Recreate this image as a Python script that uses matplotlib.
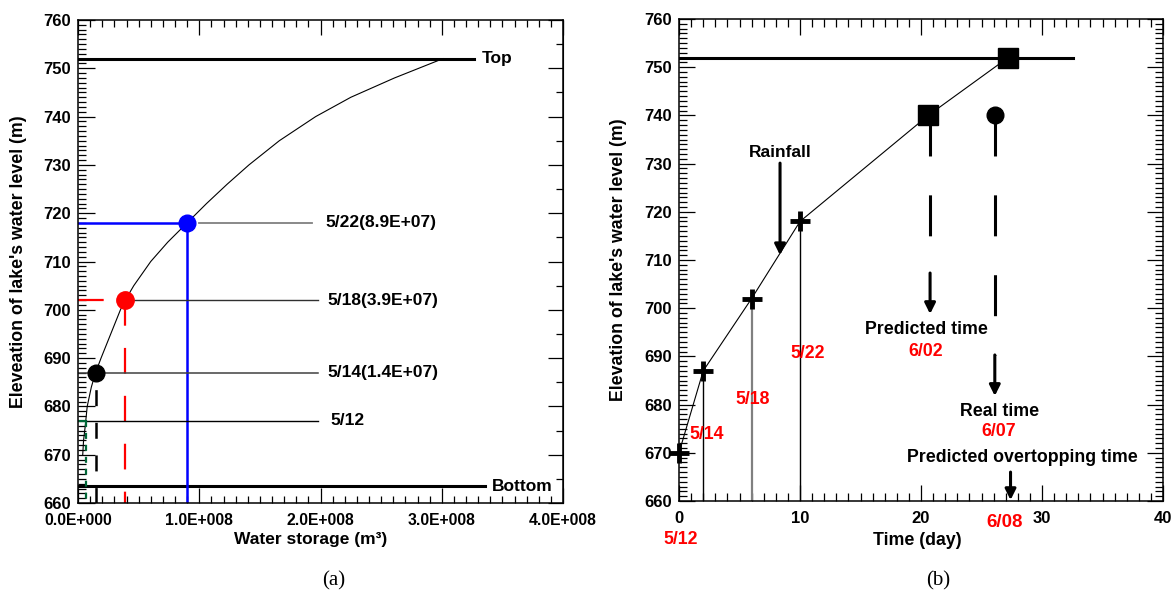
import matplotlib.pyplot as plt
from matplotlib.ticker import MultipleLocator, FuncFormatter

plt.rcParams['font.family'] = 'Liberation Sans'
plt.rcParams['font.weight'] = 'bold'
plt.rcParams['axes.labelweight'] = 'bold'
plt.rcParams['lines.scale_dashes'] = False

# (a) storage curve: water storage (m3) vs elevation (m)
storage = [3.9e6, 4.6e6, 6.0e6, 7.6e6, 1.1e7, 1.45e7, 1.9e7, 2.7e7, 3.5e7, 3.9e7,
           4.6e7, 6.0e7, 7.4e7, 9.0e7, 1.06e8, 1.23e8, 1.41e8, 1.66e8, 1.96e8,
           2.25e8, 2.61e8, 3.01e8]
elev = [670, 673, 676, 680, 684, 687, 690, 695, 700, 702,
        705, 710, 714, 718, 722, 726, 730, 735, 740,
        744, 748, 752]

top_elev = 752
bottom_elev = 663.5
date_labels = ['5/22(8.9E+07)', '5/18(3.9E+07)', '5/14(1.4E+07)', '5/12']
date_storage = [9.0e7, 3.9e7, 1.45e7, 6.3e6]
date_elev = [718, 702, 687, 677]

# (b) water level vs time
days = [0, 2, 6, 10]
day_elev = [670, 687, 702, 718]
day_labels = ['5/12', '5/14', '5/18', '5/22']
pred_day, pred_elev = 20.6, 740
over_day, over_elev = 27.2, 752
real_day, real_elev = 26.1, 740

fig = plt.figure(figsize=(11.73, 5.94), dpi=100)

# ---------------- panel (a) ----------------
ax1 = fig.add_axes([78/1173, 1-503/594, 485/1173, 483/594])
ax1.set_xlim(0, 4e8)
ax1.set_ylim(660, 760)

ax1.plot([0, 3.27e8], [top_elev, top_elev], color='k', lw=2.2)
ax1.plot([0, 3.36e8], [bottom_elev, bottom_elev], color='k', lw=2.2)
ax1.text(3.33e8, top_elev, 'Top', fontsize=12.5, va='center')
ax1.text(3.41e8, bottom_elev, 'Bottom', fontsize=12.5, va='center')

ax1.plot(storage, elev, color='k', lw=0.8)

# 5/22 blue
s, e = date_storage[0], date_elev[0]
ax1.plot([0, s], [e, e], color='#0000FF', lw=1.8)
ax1.plot([s, s], [660, e], color='#0000FF', lw=1.8)
ax1.plot([1.0e8, 1.93e8], [e, e], color='#808080', lw=1.3)
ax1.plot(s, e, 'o', color='#0000FF', ms=12)

# 5/18 red
s, e = date_storage[1], date_elev[1]
ax1.plot([0, s], [e, e], color='red', lw=1.6, ls=(0, (18.5, 16)))
ax1.plot([s, s], [e, 660], color='red', lw=1.6, ls=(0, (18.5, 16)))
ax1.plot([s, 1.98e8], [e, e], color='#303030', lw=1.0)
ax1.plot(s, e, 'o', color='red', ms=12.5)

# 5/14 black
s, e = date_storage[2], date_elev[2]
ax1.plot([0, 1.98e8], [e, e], color='#404040', lw=1.1)
ax1.plot([s, s], [e, 660], color='k', lw=1.8, ls=(11.5, (11.5, 12)))
ax1.plot(s, e, 'o', color='k', ms=12)

# 5/12 green
s, e = date_storage[3], date_elev[3]
ax1.plot([0, s], [e, e], color='#006838', lw=1.6)
ax1.plot([s, 1.98e8], [e, e], color='k', lw=1.0)
ax1.plot([s, s], [e, 660], color='#006838', lw=1.6, ls=(0, (4.3, 4.3)))

text_x = [2.04e8, 2.06e8, 2.06e8, 2.08e8]
for lab, tx, e in zip(date_labels, text_x, date_elev):
    ax1.text(tx, e, lab, fontsize=12.5, va='center')

ax1.xaxis.set_major_locator(MultipleLocator(1e8))
ax1.xaxis.set_minor_locator(MultipleLocator(1e7))
ax1.yaxis.set_major_locator(MultipleLocator(10))
ax1.yaxis.set_minor_locator(MultipleLocator(1))
ax1.xaxis.set_major_formatter(FuncFormatter(
    lambda v, p: '0.0E+000' if v == 0 else '%.1fE+008' % (v / 1e8)))
ax1.tick_params(which='both', direction='in', top=True, right=False, width=0.9)
ax1.tick_params(axis='x', which='major', length=10.5, pad=7, labelsize=11.3)
ax1.tick_params(axis='x', which='minor', length=4.8)
ax1.tick_params(axis='y', which='major', length=12, pad=5, labelsize=12)
ax1.tick_params(axis='y', which='minor', length=5.5)
sec1 = ax1.secondary_yaxis('right')
sec1.yaxis.set_major_locator(MultipleLocator(10))
sec1.yaxis.set_minor_locator(MultipleLocator(5))
sec1.tick_params(which='both', direction='in', labelright=False, width=0.9)
sec1.tick_params(which='major', length=11)
sec1.tick_params(which='minor', length=5)
for sp in ax1.spines.values():
    sp.set_linewidth(1.1)

ax1.set_xlabel('Water storage (m³)', fontsize=12.5)
ax1.set_ylabel("Eleveation of lake's water level (m)", fontsize=12.8)
ax1.xaxis.set_label_coords(0.48, -0.06)
ax1.yaxis.set_label_coords(-0.105, 0.5)

# ---------------- panel (b) ----------------
ax2 = fig.add_axes([679/1173, 1-501/594, 484/1173, 482/594])
ax2.set_xlim(0, 40)
ax2.set_ylim(660, 760)

ax2.plot([0, 32.6], [top_elev, top_elev], color='k', lw=2.2)
ax2.plot(days + [pred_day, over_day], day_elev + [pred_elev, over_elev],
         color='k', lw=0.8)
for d, e in zip(days[1:], day_elev[1:]):
    ax2.plot([d, d], [660, e], color='#808080' if d == 6 else 'k',
             lw=1.6 if d == 6 else 1.0)
ax2.plot(days, day_elev, '+', color='k', ms=15, mew=3.5, clip_on=False)
ax2.plot([pred_day, over_day], [pred_elev, over_elev], 's', color='k', ms=14.5)
ax2.plot(real_day, real_elev, 'o', color='k', ms=12)

arrow = dict(arrowstyle='-|>', color='k', lw=2.2, mutation_scale=16,
             shrinkA=0, shrinkB=0)
# predicted time
ax2.plot([pred_day + 0.15, pred_day + 0.15], [pred_elev, 707.3], color='k',
         lw=2.2, ls=(0, (29.5, 28)), dash_capstyle='butt')
ax2.annotate('', xy=(pred_day + 0.15, 698.8), xytext=(pred_day + 0.15, 707.3),
             arrowprops=arrow)
# real time
ax2.plot([real_day, real_day], [real_elev, 690.3], color='k',
         lw=2.2, ls=(0, (29.5, 28)), dash_capstyle='butt')
ax2.annotate('', xy=(real_day, 681.8), xytext=(real_day, 690.3),
             arrowprops=arrow)
# rainfall
ax2.annotate('', xy=(8.35, 711.0), xytext=(8.35, 730.1), arrowprops=arrow)
ax2.text(8.35, 732.4, 'Rainfall', fontsize=12.5, ha='center', va='center')
# overtopping
ax2.annotate('', xy=(27.4, 660.2), xytext=(27.4, 666.0), arrowprops=arrow,
             annotation_clip=False)

ax2.text(20.45, 695.5, 'Predicted time', fontsize=12.8, ha='center', va='center')
ax2.text(20.4, 691.0, '6/02', fontsize=12.8, ha='center', va='center', color='red')
ax2.text(26.5, 678.5, 'Real time', fontsize=12.8, ha='center', va='center')
ax2.text(26.45, 674.4, '6/07', fontsize=12.8, ha='center', va='center', color='red')
ax2.text(28.4, 669.1, 'Predicted overtopping time', fontsize=12.8,
         ha='center', va='center')
ax2.text(26.9, 655.6, '6/08', fontsize=13.5, ha='center', va='center',
         color='red', clip_on=False)

label_pos = [(0.17, 652.1), (2.31, 673.7), (6.12, 681.0), (10.66, 690.7)]
for lab, (lx, ly) in zip(day_labels, label_pos):
    ax2.text(lx, ly, lab, fontsize=12.8, ha='center', va='center', color='red',
             clip_on=False)

ax2.xaxis.set_major_locator(MultipleLocator(10))
ax2.xaxis.set_minor_locator(MultipleLocator(1))
ax2.yaxis.set_major_locator(MultipleLocator(10))
ax2.yaxis.set_minor_locator(MultipleLocator(1))
ax2.tick_params(which='both', direction='in', top=True, right=True,
                labelsize=12, width=0.9)
ax2.tick_params(which='major', length=11.5)
ax2.tick_params(which='minor', length=5.5)
ax2.tick_params(axis='x', pad=7)
ax2.tick_params(axis='y', pad=5)
for sp in ax2.spines.values():
    sp.set_linewidth(1.1)

ax2.set_xlabel('Time (day)', fontsize=12.8)
ax2.set_ylabel("Elevation of lake's water level (m)", fontsize=12.8)
ax2.xaxis.set_label_coords(0.493, -0.064)
ax2.yaxis.set_label_coords(-0.108, 0.5)

fig.text(334/1173, 1-581/594, '(a)', family='Liberation Serif', fontweight='normal',
         fontsize=15, ha='center', va='center')
fig.text(938/1173, 1-581/594, '(b)', family='Liberation Serif', fontweight='normal',
         fontsize=15, ha='center', va='center')

fig.canvas.draw()
for ax in (ax1, ax2):
    for lab in ax.get_xticklabels() + ax.get_yticklabels():
        lab.set_fontweight('bold')

fig.savefig('out.png', dpi=100)
